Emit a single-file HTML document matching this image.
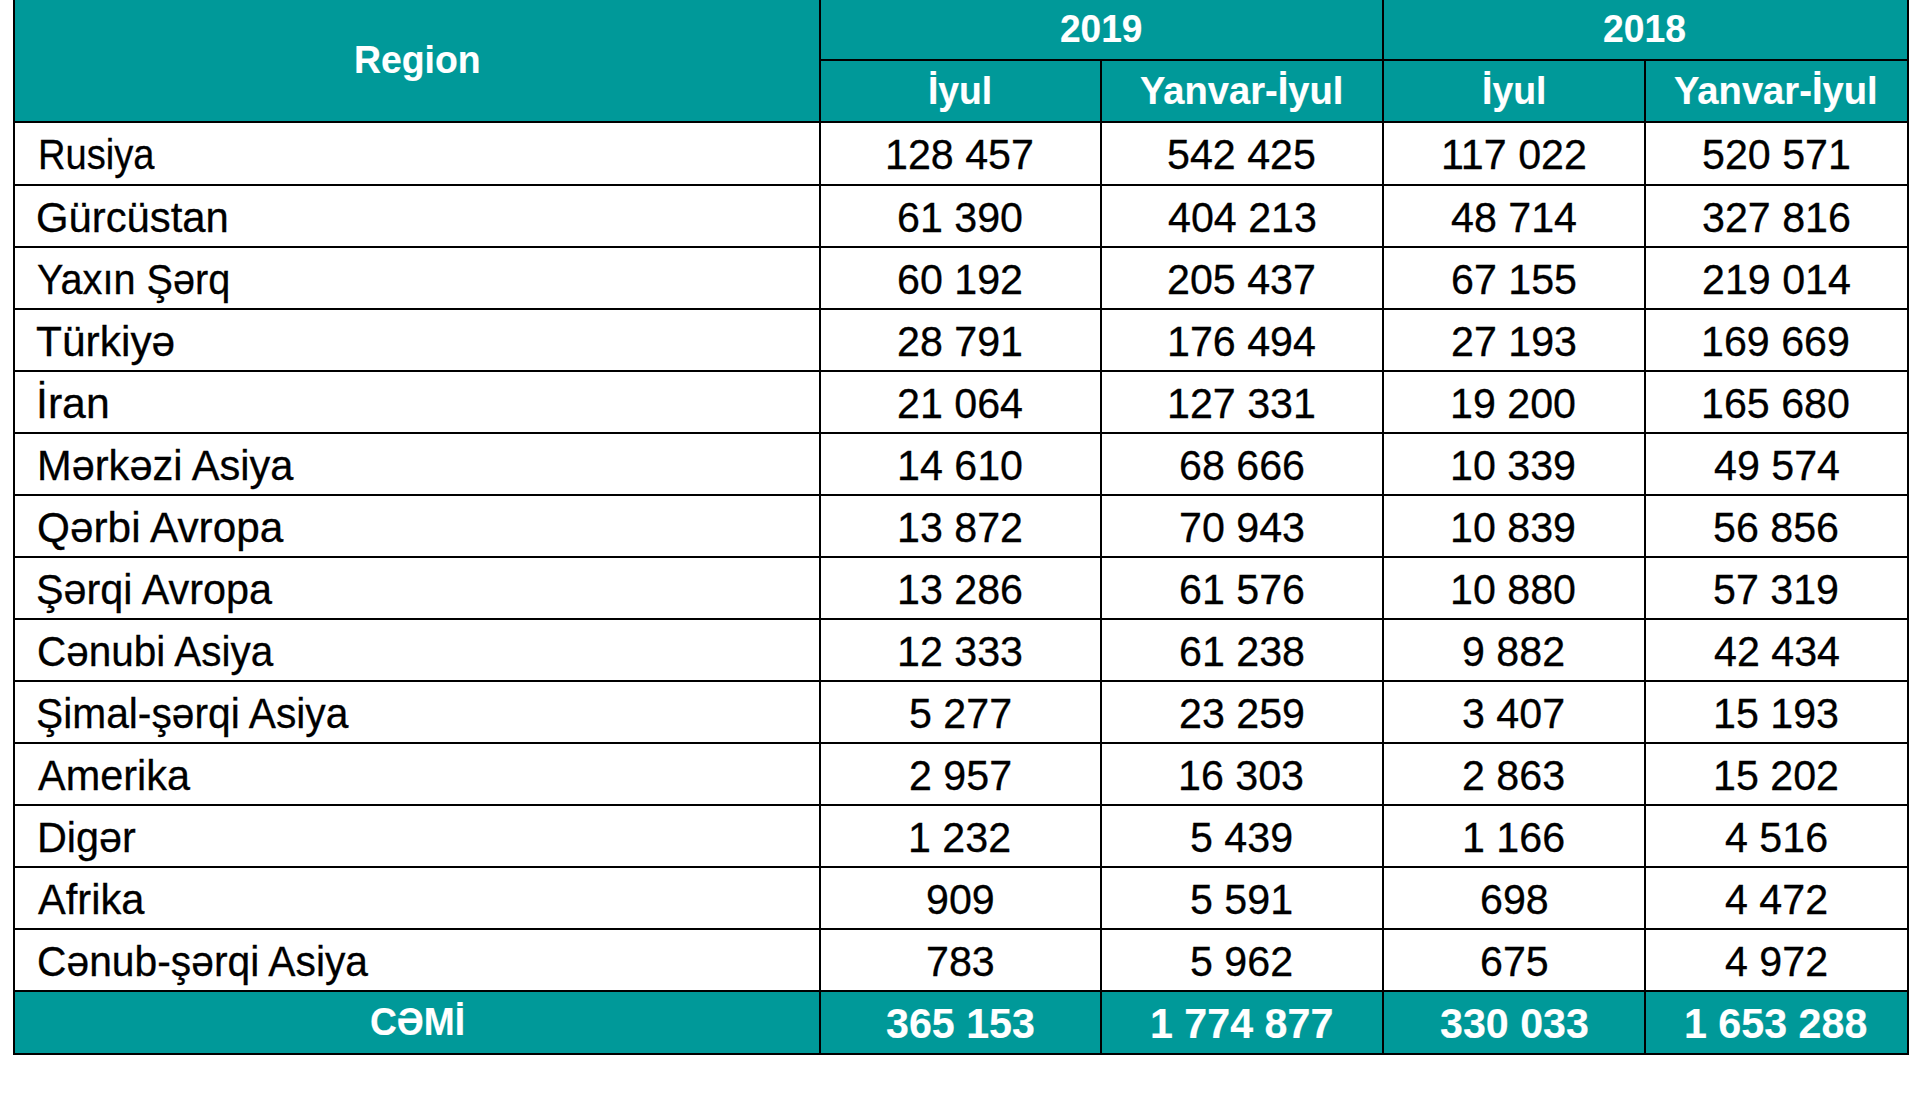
<!DOCTYPE html><html><head><meta charset="utf-8"><style>
html,body{margin:0;padding:0;background:#fff;width:1928px;height:1103px;overflow:hidden}
.a{position:absolute}
.t{position:absolute;white-space:nowrap;line-height:100px;height:100px;font-family:'Liberation Sans', sans-serif}
.b{background:#000}
.t{-webkit-text-stroke:0.3px currentColor}
.w{-webkit-text-stroke:0.15px currentColor}
.w{color:#fff;font-weight:700}
</style></head><body>
<div class='a' style='left:15px;top:0;width:1892px;height:121px;background:#009999'></div>
<div class='a' style='left:15px;top:992.00px;width:1892px;height:61.00px;background:#009999'></div>
<div class='a b' style='left:13px;top:0px;width:2px;height:1055.00px'></div>
<div class='a b' style='left:819px;top:0px;width:2px;height:1055.00px'></div>
<div class='a b' style='left:1100px;top:59px;width:2px;height:996.00px'></div>
<div class='a b' style='left:1382px;top:0px;width:2px;height:1055.00px'></div>
<div class='a b' style='left:1644px;top:59px;width:2px;height:996.00px'></div>
<div class='a b' style='left:1907px;top:0px;width:2px;height:1055.00px'></div>
<div class='a b' style='left:13px;top:121.00px;width:1896px;height:2px'></div>
<div class='a b' style='left:13px;top:184.00px;width:1896px;height:2px'></div>
<div class='a b' style='left:13px;top:246.00px;width:1896px;height:2px'></div>
<div class='a b' style='left:13px;top:308.00px;width:1896px;height:2px'></div>
<div class='a b' style='left:13px;top:370.00px;width:1896px;height:2px'></div>
<div class='a b' style='left:13px;top:432.00px;width:1896px;height:2px'></div>
<div class='a b' style='left:13px;top:494.00px;width:1896px;height:2px'></div>
<div class='a b' style='left:13px;top:556.00px;width:1896px;height:2px'></div>
<div class='a b' style='left:13px;top:618.00px;width:1896px;height:2px'></div>
<div class='a b' style='left:13px;top:680.00px;width:1896px;height:2px'></div>
<div class='a b' style='left:13px;top:742.00px;width:1896px;height:2px'></div>
<div class='a b' style='left:13px;top:804.00px;width:1896px;height:2px'></div>
<div class='a b' style='left:13px;top:866.00px;width:1896px;height:2px'></div>
<div class='a b' style='left:13px;top:928.00px;width:1896px;height:2px'></div>
<div class='a b' style='left:13px;top:990.00px;width:1896px;height:2px'></div>
<div class='a b' style='left:13px;top:1053.00px;width:1896px;height:2px'></div>
<div class='a b' style='left:819px;top:59px;width:1090px;height:2px'></div>
<div class='t w' style='left:354.11px;top:9.20px;font-size:39.5px;font-weight:700;transform-origin:0 0;transform:scaleX(0.9462)'>Region</div>
<div class='t w' style='left:1059.86px;top:-21.70px;font-size:39.5px;font-weight:700;transform-origin:0 0;transform:scaleX(0.9372)'>2019</div>
<div class='t w' style='left:1603.31px;top:-21.70px;font-size:39.5px;font-weight:700;transform-origin:0 0;transform:scaleX(0.9430)'>2018</div>
<div class='t w' style='left:928.01px;top:39.90px;font-size:39.5px;font-weight:700;transform-origin:0 0;transform:scaleX(0.9429)'>İyul</div>
<div class='t w' style='left:1139.84px;top:39.90px;font-size:39.5px;font-weight:700;transform-origin:0 0;transform:scaleX(0.9647)'>Yanvar-İyul</div>
<div class='t w' style='left:1481.51px;top:39.90px;font-size:39.5px;font-weight:700;transform-origin:0 0;transform:scaleX(0.9460)'>İyul</div>
<div class='t w' style='left:1674.33px;top:39.90px;font-size:39.5px;font-weight:700;transform-origin:0 0;transform:scaleX(0.9662)'>Yanvar-İyul</div>
<div class='t w' style='left:369.76px;top:971.00px;font-size:39.5px;font-weight:700;transform-origin:0 0;transform:scaleX(0.9408)'>CƏMİ</div>
<div class='t ' style='left:37.64px;top:103.60px;font-size:43px;font-weight:400;transform-origin:0 0;transform:scaleX(0.8860)'>Rusiya</div>
<div class='t ' style='left:36.36px;top:166.60px;font-size:43px;font-weight:400;transform-origin:0 0;transform:scaleX(0.9722)'>Gürcüstan</div>
<div class='t ' style='left:37.38px;top:228.60px;font-size:43px;font-weight:400;transform-origin:0 0;transform:scaleX(0.9223)'>Yaxın Şərq</div>
<div class='t ' style='left:36.21px;top:290.60px;font-size:43px;font-weight:400;transform-origin:0 0;transform:scaleX(0.9877)'>Türkiyə</div>
<div class='t ' style='left:36.22px;top:352.60px;font-size:43px;font-weight:400;transform-origin:0 0;transform:scaleX(0.9941)'>İran</div>
<div class='t ' style='left:37.30px;top:414.60px;font-size:43px;font-weight:400;transform-origin:0 0;transform:scaleX(0.9668)'>Mərkəzi Asiya</div>
<div class='t ' style='left:36.73px;top:476.60px;font-size:43px;font-weight:400;transform-origin:0 0;transform:scaleX(0.9847)'>Qərbi Avropa</div>
<div class='t ' style='left:36.38px;top:538.60px;font-size:43px;font-weight:400;transform-origin:0 0;transform:scaleX(0.9619)'>Şərqi Avropa</div>
<div class='t ' style='left:36.82px;top:600.60px;font-size:43px;font-weight:400;transform-origin:0 0;transform:scaleX(0.9410)'>Cənubi Asiya</div>
<div class='t ' style='left:36.41px;top:662.60px;font-size:43px;font-weight:400;transform-origin:0 0;transform:scaleX(0.9473)'>Şimal-şərqi Asiya</div>
<div class='t ' style='left:37.70px;top:724.60px;font-size:43px;font-weight:400;transform-origin:0 0;transform:scaleX(0.9633)'>Amerika</div>
<div class='t ' style='left:37.32px;top:786.60px;font-size:43px;font-weight:400;transform-origin:0 0;transform:scaleX(0.9616)'>Digər</div>
<div class='t ' style='left:37.70px;top:848.60px;font-size:43px;font-weight:400;transform-origin:0 0;transform:scaleX(0.9682)'>Afrika</div>
<div class='t ' style='left:36.80px;top:910.60px;font-size:43px;font-weight:400;transform-origin:0 0;transform:scaleX(0.9487)'>Cənub-şərqi Asiya</div>
<div class='t ' style='left:885.28px;top:103.60px;font-size:43px;font-weight:400;transform-origin:0 0;transform:scaleX(0.9583)'>128 457</div>
<div class='t ' style='left:1167.25px;top:103.60px;font-size:43px;font-weight:400;transform-origin:0 0;transform:scaleX(0.9583)'>542 425</div>
<div class='t ' style='left:1440.69px;top:103.60px;font-size:43px;font-weight:400;transform-origin:0 0;transform:scaleX(0.9583)'>117 022</div>
<div class='t ' style='left:1701.75px;top:103.60px;font-size:43px;font-weight:400;transform-origin:0 0;transform:scaleX(0.9583)'>520 571</div>
<div class='t ' style='left:897.25px;top:166.60px;font-size:43px;font-weight:400;transform-origin:0 0;transform:scaleX(0.9583)'>61 390</div>
<div class='t ' style='left:1167.73px;top:166.60px;font-size:43px;font-weight:400;transform-origin:0 0;transform:scaleX(0.9583)'>404 213</div>
<div class='t ' style='left:1451.23px;top:166.60px;font-size:43px;font-weight:400;transform-origin:0 0;transform:scaleX(0.9583)'>48 714</div>
<div class='t ' style='left:1701.75px;top:166.60px;font-size:43px;font-weight:400;transform-origin:0 0;transform:scaleX(0.9583)'>327 816</div>
<div class='t ' style='left:897.25px;top:228.60px;font-size:43px;font-weight:400;transform-origin:0 0;transform:scaleX(0.9583)'>60 192</div>
<div class='t ' style='left:1167.25px;top:228.60px;font-size:43px;font-weight:400;transform-origin:0 0;transform:scaleX(0.9583)'>205 437</div>
<div class='t ' style='left:1450.75px;top:228.60px;font-size:43px;font-weight:400;transform-origin:0 0;transform:scaleX(0.9583)'>67 155</div>
<div class='t ' style='left:1701.75px;top:228.60px;font-size:43px;font-weight:400;transform-origin:0 0;transform:scaleX(0.9583)'>219 014</div>
<div class='t ' style='left:897.25px;top:290.60px;font-size:43px;font-weight:400;transform-origin:0 0;transform:scaleX(0.9583)'>28 791</div>
<div class='t ' style='left:1166.78px;top:290.60px;font-size:43px;font-weight:400;transform-origin:0 0;transform:scaleX(0.9583)'>176 494</div>
<div class='t ' style='left:1450.75px;top:290.60px;font-size:43px;font-weight:400;transform-origin:0 0;transform:scaleX(0.9583)'>27 193</div>
<div class='t ' style='left:1701.28px;top:290.60px;font-size:43px;font-weight:400;transform-origin:0 0;transform:scaleX(0.9583)'>169 669</div>
<div class='t ' style='left:897.25px;top:352.60px;font-size:43px;font-weight:400;transform-origin:0 0;transform:scaleX(0.9583)'>21 064</div>
<div class='t ' style='left:1166.78px;top:352.60px;font-size:43px;font-weight:400;transform-origin:0 0;transform:scaleX(0.9583)'>127 331</div>
<div class='t ' style='left:1450.27px;top:352.60px;font-size:43px;font-weight:400;transform-origin:0 0;transform:scaleX(0.9583)'>19 200</div>
<div class='t ' style='left:1701.28px;top:352.60px;font-size:43px;font-weight:400;transform-origin:0 0;transform:scaleX(0.9583)'>165 680</div>
<div class='t ' style='left:896.77px;top:414.60px;font-size:43px;font-weight:400;transform-origin:0 0;transform:scaleX(0.9583)'>14 610</div>
<div class='t ' style='left:1178.75px;top:414.60px;font-size:43px;font-weight:400;transform-origin:0 0;transform:scaleX(0.9583)'>68 666</div>
<div class='t ' style='left:1450.27px;top:414.60px;font-size:43px;font-weight:400;transform-origin:0 0;transform:scaleX(0.9583)'>10 339</div>
<div class='t ' style='left:1713.73px;top:414.60px;font-size:43px;font-weight:400;transform-origin:0 0;transform:scaleX(0.9583)'>49 574</div>
<div class='t ' style='left:896.77px;top:476.60px;font-size:43px;font-weight:400;transform-origin:0 0;transform:scaleX(0.9583)'>13 872</div>
<div class='t ' style='left:1178.75px;top:476.60px;font-size:43px;font-weight:400;transform-origin:0 0;transform:scaleX(0.9583)'>70 943</div>
<div class='t ' style='left:1450.27px;top:476.60px;font-size:43px;font-weight:400;transform-origin:0 0;transform:scaleX(0.9583)'>10 839</div>
<div class='t ' style='left:1713.25px;top:476.60px;font-size:43px;font-weight:400;transform-origin:0 0;transform:scaleX(0.9583)'>56 856</div>
<div class='t ' style='left:896.77px;top:538.60px;font-size:43px;font-weight:400;transform-origin:0 0;transform:scaleX(0.9583)'>13 286</div>
<div class='t ' style='left:1178.75px;top:538.60px;font-size:43px;font-weight:400;transform-origin:0 0;transform:scaleX(0.9583)'>61 576</div>
<div class='t ' style='left:1450.27px;top:538.60px;font-size:43px;font-weight:400;transform-origin:0 0;transform:scaleX(0.9583)'>10 880</div>
<div class='t ' style='left:1713.25px;top:538.60px;font-size:43px;font-weight:400;transform-origin:0 0;transform:scaleX(0.9583)'>57 319</div>
<div class='t ' style='left:896.77px;top:600.60px;font-size:43px;font-weight:400;transform-origin:0 0;transform:scaleX(0.9583)'>12 333</div>
<div class='t ' style='left:1178.75px;top:600.60px;font-size:43px;font-weight:400;transform-origin:0 0;transform:scaleX(0.9583)'>61 238</div>
<div class='t ' style='left:1462.25px;top:600.60px;font-size:43px;font-weight:400;transform-origin:0 0;transform:scaleX(0.9583)'>9 882</div>
<div class='t ' style='left:1713.73px;top:600.60px;font-size:43px;font-weight:400;transform-origin:0 0;transform:scaleX(0.9583)'>42 434</div>
<div class='t ' style='left:908.75px;top:662.60px;font-size:43px;font-weight:400;transform-origin:0 0;transform:scaleX(0.9583)'>5 277</div>
<div class='t ' style='left:1178.75px;top:662.60px;font-size:43px;font-weight:400;transform-origin:0 0;transform:scaleX(0.9583)'>23 259</div>
<div class='t ' style='left:1462.25px;top:662.60px;font-size:43px;font-weight:400;transform-origin:0 0;transform:scaleX(0.9583)'>3 407</div>
<div class='t ' style='left:1712.77px;top:662.60px;font-size:43px;font-weight:400;transform-origin:0 0;transform:scaleX(0.9583)'>15 193</div>
<div class='t ' style='left:908.75px;top:724.60px;font-size:43px;font-weight:400;transform-origin:0 0;transform:scaleX(0.9583)'>2 957</div>
<div class='t ' style='left:1178.27px;top:724.60px;font-size:43px;font-weight:400;transform-origin:0 0;transform:scaleX(0.9583)'>16 303</div>
<div class='t ' style='left:1462.25px;top:724.60px;font-size:43px;font-weight:400;transform-origin:0 0;transform:scaleX(0.9583)'>2 863</div>
<div class='t ' style='left:1712.77px;top:724.60px;font-size:43px;font-weight:400;transform-origin:0 0;transform:scaleX(0.9583)'>15 202</div>
<div class='t ' style='left:908.27px;top:786.60px;font-size:43px;font-weight:400;transform-origin:0 0;transform:scaleX(0.9583)'>1 232</div>
<div class='t ' style='left:1190.25px;top:786.60px;font-size:43px;font-weight:400;transform-origin:0 0;transform:scaleX(0.9583)'>5 439</div>
<div class='t ' style='left:1461.77px;top:786.60px;font-size:43px;font-weight:400;transform-origin:0 0;transform:scaleX(0.9583)'>1 166</div>
<div class='t ' style='left:1725.23px;top:786.60px;font-size:43px;font-weight:400;transform-origin:0 0;transform:scaleX(0.9583)'>4 516</div>
<div class='t ' style='left:926.00px;top:848.60px;font-size:43px;font-weight:400;transform-origin:0 0;transform:scaleX(0.9583)'>909</div>
<div class='t ' style='left:1190.25px;top:848.60px;font-size:43px;font-weight:400;transform-origin:0 0;transform:scaleX(0.9583)'>5 591</div>
<div class='t ' style='left:1479.50px;top:848.60px;font-size:43px;font-weight:400;transform-origin:0 0;transform:scaleX(0.9583)'>698</div>
<div class='t ' style='left:1725.23px;top:848.60px;font-size:43px;font-weight:400;transform-origin:0 0;transform:scaleX(0.9583)'>4 472</div>
<div class='t ' style='left:926.00px;top:910.60px;font-size:43px;font-weight:400;transform-origin:0 0;transform:scaleX(0.9583)'>783</div>
<div class='t ' style='left:1190.25px;top:910.60px;font-size:43px;font-weight:400;transform-origin:0 0;transform:scaleX(0.9583)'>5 962</div>
<div class='t ' style='left:1479.50px;top:910.60px;font-size:43px;font-weight:400;transform-origin:0 0;transform:scaleX(0.9583)'>675</div>
<div class='t ' style='left:1725.23px;top:910.60px;font-size:43px;font-weight:400;transform-origin:0 0;transform:scaleX(0.9583)'>4 972</div>
<div class='t w' style='left:886.23px;top:973.00px;font-size:43px;font-weight:700;transform-origin:0 0;transform:scaleX(0.9583)'>365 153</div>
<div class='t w' style='left:1149.53px;top:973.00px;font-size:43px;font-weight:700;transform-origin:0 0;transform:scaleX(0.9583)'>1 774 877</div>
<div class='t w' style='left:1439.73px;top:973.00px;font-size:43px;font-weight:700;transform-origin:0 0;transform:scaleX(0.9583)'>330 033</div>
<div class='t w' style='left:1684.03px;top:973.00px;font-size:43px;font-weight:700;transform-origin:0 0;transform:scaleX(0.9583)'>1 653 288</div>
</body></html>
